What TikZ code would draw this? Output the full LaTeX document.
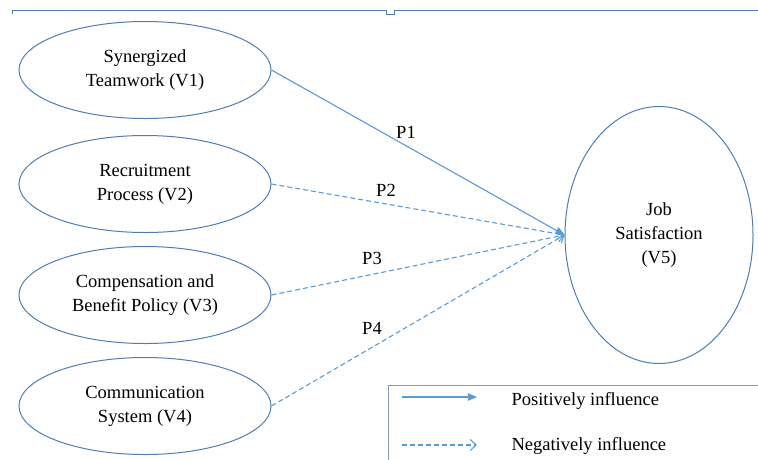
\documentclass[tikz,border=0pt]{standalone}
\usepackage{fontspec}
\setmainfont{Liberation Serif}
\usetikzlibrary{arrows,arrows.meta,shapes.geometric}

\definecolor{rimblue}{RGB}{80,125,175}
\definecolor{arrowblue}{RGB}{91,155,213}
\definecolor{boxgray}{RGB}{135,155,185}

\begin{document}
\begin{tikzpicture}[x=1pt,y=-1pt,>=triangle 45]
				\useasboundingbox (0,0) rectangle (758,459);
				\clip (0,0) rectangle (758,459);
				\tikzstyle{every node} = [font=\fontsize{18.5}{24}\selectfont,align=center,text=black];
				\tikzstyle{factor} = [ellipse,draw=rimblue,line width=1pt,inner sep=0pt,minimum width=252pt,minimum height=97pt];
				\tikzstyle{posline} = [->,draw=arrowblue,fill=arrowblue,line width=1.1pt];
				\tikzstyle{negline} = [-{Straight Barb[length=6pt,width=11pt]},draw=arrowblue,line width=1.1pt,dash pattern=on 5pt off 3pt];
				\draw[rimblue,line width=1pt] (12,14) -- (12,10) -- (386,10) -- (386,14) -- (394,14) -- (394,10) -- (758,10);
				\node[factor] (v1) at (145,70) {Synergized\\Teamwork (V1)};
				\node[factor] (v2) at (145,184) {Recruitment\\Process (V2)};
				\node[factor] (v3) at (145,295) {Compensation and\\Benefit Policy (V3)};
				\node[factor] (v4) at (145,406) {Communication\\System (V4)};
				\node[factor,minimum width=188pt,minimum height=257pt] (v5) at (659,235) {Job\\Satisfaction\\(V5)};
				\draw[posline] (v1.east) -- (v5.west);
				\draw[negline] (v2.east) -- (v5.west);
				\draw[negline] (v3.east) -- (v5.west);
				\draw[negline] (v4.east) -- (v5.west);
				\node (p1) at (406,132) {P1};
				\node (p2) at (386,190) {P2};
				\node (p3) at (372,258) {P3};
				\node (p4) at (372,328) {P4};
				% legend
				\draw[boxgray,line width=1pt] (388,385) rectangle (775,475);
				\coordinate (ps) at (402,397);
				\coordinate (pe) at (477,397);
				\coordinate (ns) at (402,445);
				\coordinate (ne) at (477,445);
				\draw[posline] (ps) -- (pe);
				\draw[negline] (ns) -- (ne);
				\node[anchor=west] (lpos) at (508,401) {Positively influence};
				\node[anchor=west] (lneg) at (508,446) {Negatively influence};
			\end{tikzpicture}
\end{document}
